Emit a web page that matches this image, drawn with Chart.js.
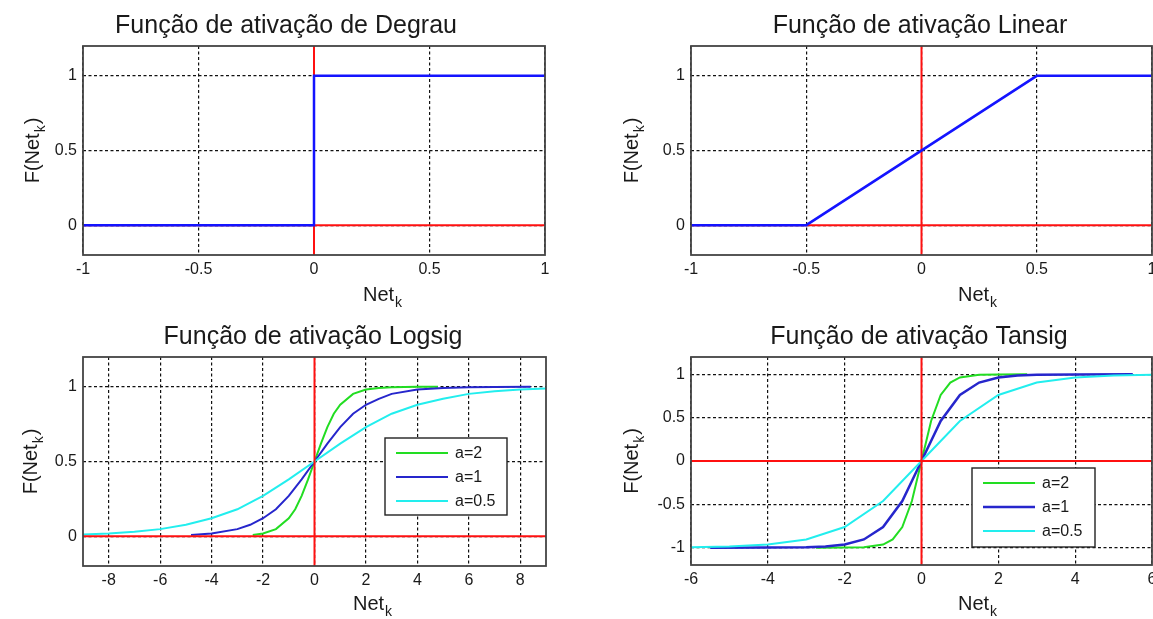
<!DOCTYPE html>
<html><head><meta charset="utf-8">
<script src="https://cdn.jsdelivr.net/npm/chart.js@4.4.1/dist/chart.umd.min.js"></script>
<style>
html,body{margin:0;padding:0;background:#fff;width:1153px;height:619px;overflow:hidden}
.c{position:absolute;left:0;top:0;width:1153px;height:619px}
</style></head><body>
<div class="c"><canvas id="c1"></canvas></div>
<div class="c"><canvas id="c2"></canvas></div>
<div class="c"><canvas id="c3"></canvas></div>
<div class="c"><canvas id="c4"></canvas></div>
<script>
// ---------- data ----------
const titles = ['Função de ativação de Degrau', 'Função de ativação Linear', 'Função de ativação Logsig', 'Função de ativação Tansig'];
const legendLabels = ['a=2', 'a=1', 'a=0.5'];

const degrauX = [-1, 0, 0, 1];
const degrauY = [0, 0, 1, 1];
const linearX = [-1, -0.5, 0.5, 1];
const linearY = [0, 0, 1, 1];

const logsigX_a2 = [-2.4, -2, -1.5, -1, -0.75, -0.5, -0.25, 0, 0.25, 0.5, 0.75, 1, 1.5, 2, 2.5, 3, 4, 4.8];
const logsigY_a2 = [0.008, 0.018, 0.047, 0.12, 0.18, 0.27, 0.38, 0.5, 0.62, 0.73, 0.82, 0.88, 0.953, 0.982, 0.993, 0.998, 1.0, 1.0];
const logsigX_a1 = [-4.8, -4, -3, -2.5, -2, -1.5, -1, -0.5, 0, 0.5, 1, 1.5, 2, 2.5, 3, 4, 5, 6, 7, 8.4];
const logsigY_a1 = [0.008, 0.018, 0.047, 0.076, 0.12, 0.18, 0.27, 0.38, 0.5, 0.62, 0.73, 0.82, 0.88, 0.92, 0.953, 0.982, 0.993, 0.998, 0.999, 1.0];
const logsigX_a05 = [-9, -8, -7, -6, -5, -4, -3, -2, -1, 0, 1, 2, 3, 4, 5, 6, 7, 8, 9];
const logsigY_a05 = [0.011, 0.018, 0.029, 0.047, 0.076, 0.12, 0.18, 0.27, 0.38, 0.5, 0.62, 0.73, 0.82, 0.88, 0.92, 0.953, 0.97, 0.982, 0.989];

const tansigX_a2 = [-2.75, -2, -1.5, -1, -0.75, -0.5, -0.25, 0, 0.25, 0.5, 0.75, 1, 1.5, 2, 2.75];
const tansigY_a2 = [-1, -0.999, -0.995, -0.964, -0.905, -0.762, -0.462, 0, 0.462, 0.762, 0.905, 0.964, 0.995, 0.999, 1];
const tansigX_a1 = [-5.5, -4, -3, -2.5, -2, -1.5, -1, -0.5, 0, 0.5, 1, 1.5, 2, 2.5, 3, 4, 5.5];
const tansigY_a1 = [-1, -0.999, -0.995, -0.987, -0.964, -0.905, -0.762, -0.462, 0, 0.462, 0.762, 0.905, 0.964, 0.987, 0.995, 0.999, 1];
const tansigX_a05 = [-6, -5, -4, -3, -2, -1, 0, 1, 2, 3, 4, 5, 6];
const tansigY_a05 = [-0.995, -0.987, -0.964, -0.905, -0.762, -0.462, 0, 0.462, 0.762, 0.905, 0.964, 0.987, 0.995];

const topXRange = [-1, 1];
const topYRange = [-0.2, 1.2];
const logsigXRange = [-9, 9];
const logsigYRange = [-0.2, 1.2];
const tansigXRange = [-6, 6];
const tansigYRange = [-1.2, 1.2];

const topXTicks = [-1, -0.5, 0, 0.5, 1];
const topYTicks = [0, 0.5, 1];
const logsigXTicks = [-8, -6, -4, -2, 0, 2, 4, 6, 8];
const logsigYTicks = [0, 0.5, 1];
const tansigXTicks = [-6, -4, -2, 0, 2, 4, 6];
const tansigYTicks = [-1, -0.5, 0, 0.5, 1];

// ---------- helpers ----------
const FONT = '"Liberation Sans", Arial, sans-serif';
const TXT = '#1a1a1a';
const RED = '#ff1010';
const W = 1153, H = 619, YW = 40, XH = 30;

function pts(xs, ys) { return xs.map((x, i) => ({x: x, y: ys[i]})); }
function line(data, color, width, label) {
  return {label: label || '', data: data, borderColor: color, backgroundColor: color,
    borderWidth: width, showLine: true, pointRadius: 0, tension: 0, fill: false};
}
function axisLines(xr, yr) {
  return [
    line([{x: 0, y: yr[0]}, {x: 0, y: yr[1]}], RED, 2),
    line([{x: xr[0], y: 0}, {x: xr[1], y: 0}], RED, 2)
  ];
}

const decor = {
  id: 'decor',
  afterDraw(chart, args, o) {
    const ctx = chart.ctx, a = chart.chartArea;
    ctx.save();
    // box
    ctx.strokeStyle = '#444'; ctx.lineWidth = 1.8;
    ctx.strokeRect(a.left, a.top, a.right - a.left, a.bottom - a.top);
    ctx.fillStyle = TXT;
    // title
    ctx.font = '25px ' + FONT; ctx.textAlign = 'center'; ctx.textBaseline = 'alphabetic';
    ctx.fillText(o.title, o.titleX, a.top - 13);
    // x label
    ctx.textAlign = 'left';
    ctx.font = '20px ' + FONT;
    const nx = a.left + o.xLabelDx, ny = a.bottom + o.xLabelDy;
    ctx.fillText('Net', nx, ny);
    const nw = ctx.measureText('Net').width;
    ctx.font = '14px ' + FONT;
    ctx.fillText('k', nx + nw + 1, ny + 6);
    // y label rotated
    ctx.save();
    ctx.translate(a.left - o.yLabelDx, (a.top + a.bottom) / 2);
    ctx.rotate(-Math.PI / 2);
    ctx.font = '20px ' + FONT;
    const w1 = ctx.measureText('F(Net').width;
    const w3 = ctx.measureText(')').width;
    ctx.font = '14px ' + FONT;
    const w2 = ctx.measureText('k').width;
    let sx = -(w1 + w2 + w3 + 2) / 2;
    ctx.font = '20px ' + FONT;
    ctx.fillText('F(Net', sx, 0);
    ctx.font = '14px ' + FONT;
    ctx.fillText('k', sx + w1 + 1, 6);
    ctx.font = '20px ' + FONT;
    ctx.fillText(')', sx + w1 + w2 + 2, 0);
    ctx.restore();
    // legend
    if (o.legend) {
      const L = o.legend;
      const lx = a.left + L.dx, ly = a.top + L.dy;
      ctx.fillStyle = '#fff';
      ctx.fillRect(lx, ly, L.w, L.h);
      ctx.strokeStyle = '#222'; ctx.lineWidth = 1.4;
      ctx.strokeRect(lx, ly, L.w, L.h);
      ctx.font = '16px ' + FONT; ctx.textBaseline = 'middle'; ctx.textAlign = 'left';
      L.items.forEach((it, i) => {
        const ds = chart.data.datasets[it];
        const yy = ly + L.first + i * L.step;
        ctx.strokeStyle = ds.borderColor; ctx.lineWidth = ds.borderWidth;
        ctx.beginPath(); ctx.moveTo(lx + 11, yy); ctx.lineTo(lx + 63, yy); ctx.stroke();
        ctx.fillStyle = TXT;
        ctx.fillText(ds.label, lx + 70, yy + 1);
      });
    }
    ctx.restore();
  }
};

function make(id, c) {
  const tickFont = {family: FONT, size: 16};
  const gridOpts = {color: '#111', lineWidth: 1.2, drawTicks: false, borderDash: [3, 2.5]};
  return new Chart(document.getElementById(id), {
    type: 'scatter',
    data: {datasets: c.datasets},
    plugins: [decor],
    options: {
      responsive: true, maintainAspectRatio: false, animation: false, events: [],
      layout: {padding: {left: c.l - YW, top: c.t, right: W - c.r, bottom: H - c.b - XH}},
      plugins: {legend: {display: false}, tooltip: {enabled: false},
        decor: {title: c.title, titleX: c.titleX, xLabelDx: c.xLabelDx, xLabelDy: c.xLabelDy,
          yLabelDx: c.yLabelDx, legend: c.legend}},
      scales: {
        x: {type: 'linear', position: 'bottom', min: c.xr[0], max: c.xr[1],
          afterBuildTicks: s => { s.ticks = c.xt.map(v => ({value: v})); },
          afterFit: s => { s.height = XH; s.paddingLeft = 0; s.paddingRight = 0; },
          ticks: {font: tickFont, color: TXT, padding: 5, maxRotation: 0, autoSkip: false, callback: v => String(v)},
          grid: gridOpts,
          border: {display: false, dash: [3, 2.5]}},
        y: {type: 'linear', position: 'left', min: c.yr[0], max: c.yr[1],
          afterBuildTicks: s => { s.ticks = c.yt.map(v => ({value: v})); },
          afterFit: s => { s.width = YW; s.paddingTop = 0; s.paddingBottom = 0; },
          ticks: {font: tickFont, color: TXT, padding: 6, autoSkip: false, callback: v => String(v)},
          grid: gridOpts,
          border: {display: false, dash: [3, 2.5]}}
      }
    }
  });
}

const BLUE = '#1414ff';
const BLUE2 = '#2626cc';
const GREEN = '#22dd22';
const CYAN = '#22eeee';

make('c1', {
  l: 83, t: 46, r: 545, b: 255, xr: topXRange, yr: topYRange, xt: topXTicks, yt: topYTicks,
  title: titles[0], titleX: 286, xLabelDx: 280, xLabelDy: 46, yLabelDx: 44,
  datasets: [line(pts(degrauX, degrauY), BLUE, 2.5)].concat(axisLines(topXRange, topYRange))
});
make('c2', {
  l: 691, t: 46, r: 1152, b: 255, xr: topXRange, yr: topYRange, xt: topXTicks, yt: topYTicks,
  title: titles[1], titleX: 920, xLabelDx: 267, xLabelDy: 46, yLabelDx: 53,
  datasets: [line(pts(linearX, linearY), BLUE, 2.5)].concat(axisLines(topXRange, topYRange))
});
make('c3', {
  l: 83, t: 357, r: 546, b: 566, xr: logsigXRange, yr: logsigYRange, xt: logsigXTicks, yt: logsigYTicks,
  title: titles[2], titleX: 313, xLabelDx: 270, xLabelDy: 44, yLabelDx: 46,
  datasets: axisLines(logsigXRange, logsigYRange).concat([
    line(pts(logsigX_a05, logsigY_a05), CYAN, 2, legendLabels[2]),
    line(pts(logsigX_a1, logsigY_a1), BLUE2, 2, legendLabels[1]),
    line(pts(logsigX_a2, logsigY_a2), GREEN, 2, legendLabels[0])
  ]),
  legend: {dx: 302, dy: 81, w: 122, h: 77, first: 15, step: 24, items: [4, 3, 2]}
});
make('c4', {
  l: 691, t: 357, r: 1152, b: 565, xr: tansigXRange, yr: tansigYRange, xt: tansigXTicks, yt: tansigYTicks,
  title: titles[3], titleX: 919, xLabelDx: 267, xLabelDy: 45, yLabelDx: 53,
  datasets: axisLines(tansigXRange, tansigYRange).concat([
    line(pts(tansigX_a05, tansigY_a05), CYAN, 2, legendLabels[2]),
    line(pts(tansigX_a1, tansigY_a1), BLUE2, 2.5, legendLabels[1]),
    line(pts(tansigX_a2, tansigY_a2), GREEN, 2, legendLabels[0])
  ]),
  legend: {dx: 281, dy: 111, w: 123, h: 79, first: 15, step: 24, items: [4, 3, 2]}
});
</script>
</body></html>
